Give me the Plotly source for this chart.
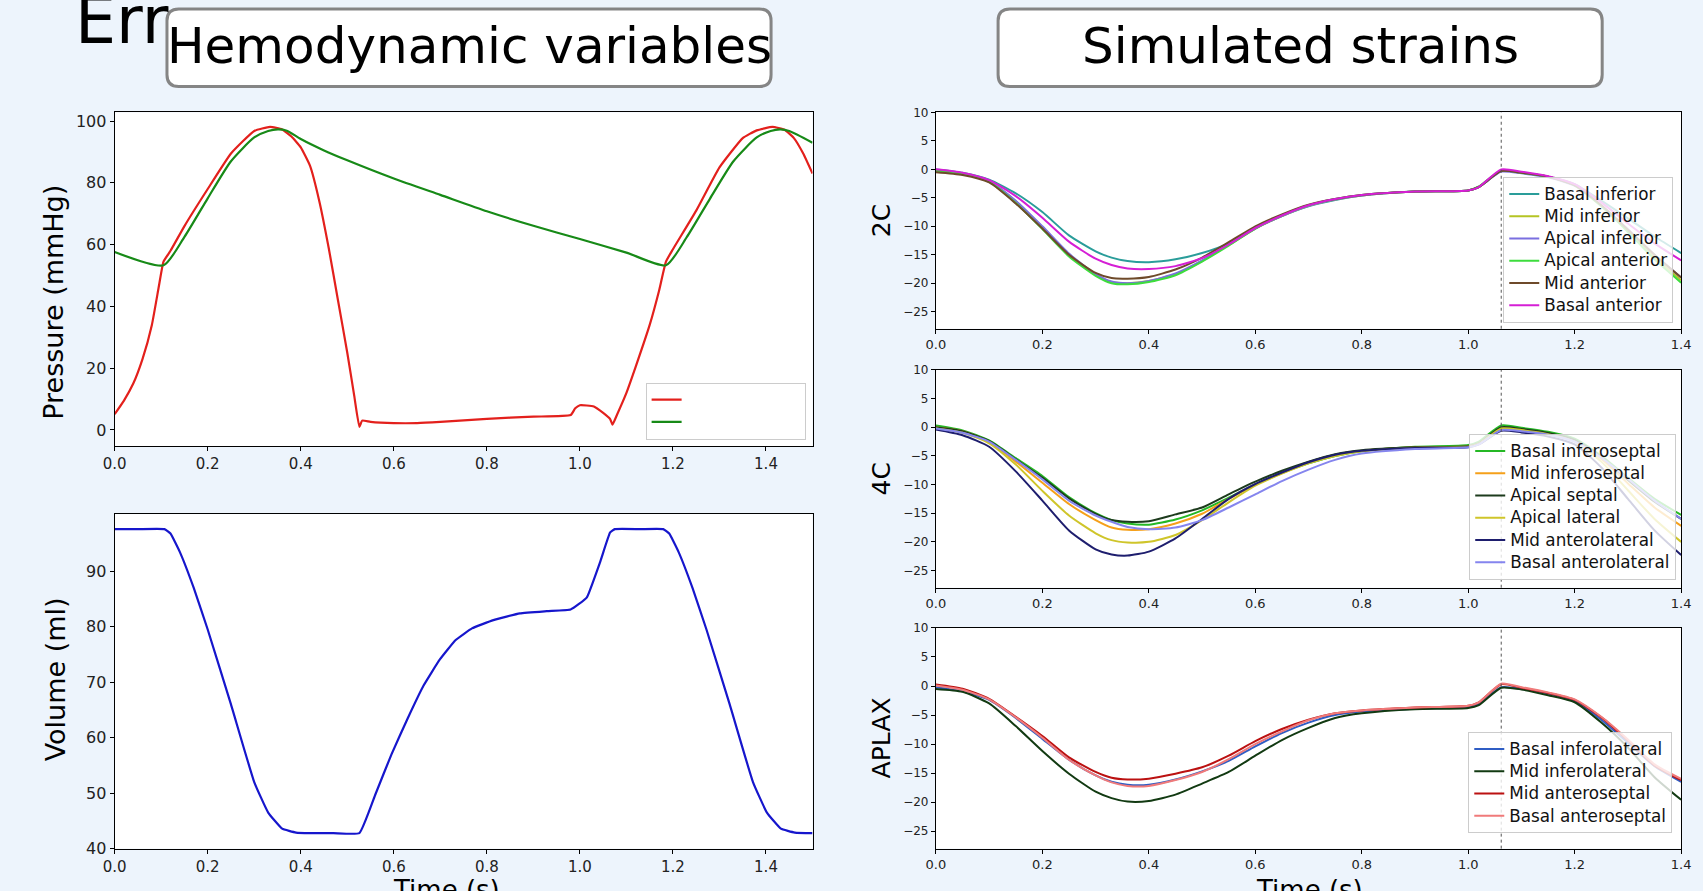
import plotly.graph_objects as go

W, H = 1703, 891
BG = "#edf4fc"
FONT = "DejaVu Sans"

# ---------------- Hemodynamic data ----------------
t_lv = [0.0, 0.02, 0.04, 0.06, 0.08, 0.095, 0.105, 0.12, 0.15, 0.2, 0.25, 0.3, 0.334, 0.36,
        0.38, 0.4, 0.42, 0.44, 0.46, 0.48, 0.5, 0.515, 0.526, 0.532, 0.55, 0.6, 0.65, 0.7,
        0.8, 0.9, 0.98, 0.99, 1.0, 1.03, 1.05, 1.065, 1.07, 1.08, 1.1, 1.12, 1.15, 1.17,
        1.185, 1.2, 1.25, 1.3, 1.35, 1.38, 1.414, 1.44, 1.46, 1.48, 1.5]
p_lv = [5.1, 9.5, 15.0, 23.0, 34.0, 46.5, 54.5, 58.0, 66.0, 78.0, 89.5, 96.8, 98.1, 97.3,
        95.0, 91.5, 85.5, 74.0, 59.0, 42.0, 25.0, 11.0, 1.0, 3.0, 2.6, 2.2, 2.2, 2.6,
        3.6, 4.3, 4.8, 7.0, 8.0, 7.6, 5.5, 3.5, 1.7, 5.0, 12.0, 20.5, 34.0, 45.0,
        54.5, 58.5, 71.0, 85.0, 94.5, 97.0, 98.1, 97.2, 94.5, 89.5, 83.0]

t_ao = [0.0, 0.105, 0.15, 0.2, 0.25, 0.3, 0.33, 0.351, 0.37, 0.4, 0.45, 0.5, 0.6, 0.7, 0.8,
        0.9, 1.0, 1.1, 1.185, 1.23, 1.28, 1.33, 1.38, 1.41, 1.431, 1.45, 1.5]
p_ao = [57.6, 53.3, 62.5, 75.0, 87.0, 94.7, 96.8, 97.3, 96.9, 94.2, 90.5, 87.3, 81.4, 76.1, 70.8,
        66.1, 61.8, 57.4, 53.3, 62.5, 75.0, 87.0, 94.7, 96.8, 97.3, 96.8, 93.0]

t_vol = [0.0, 0.05, 0.107, 0.12, 0.14, 0.17, 0.2, 0.25, 0.3, 0.33, 0.36, 0.39, 0.42, 0.47,
         0.526, 0.561, 0.595, 0.63, 0.664, 0.699, 0.733, 0.768, 0.814, 0.871, 0.929, 0.98,
         0.998, 1.015, 1.044, 1.065, 1.075, 1.13, 1.179, 1.192, 1.212, 1.242, 1.272, 1.322,
         1.372, 1.402, 1.432, 1.462, 1.5]
vol = [97.6, 97.6, 97.6, 96.8, 93.5, 87.0, 79.5, 66.0, 52.0, 46.5, 43.6, 42.9, 42.8, 42.8,
       42.8, 49.9, 57.0, 63.5, 69.4, 74.1, 77.6, 79.7, 81.2, 82.4, 82.8, 83.1,
       84.1, 85.3, 91.8, 97.0, 97.6, 97.6, 97.6, 96.8, 93.5, 87.0, 79.5, 66.0,
       52.0, 46.5, 43.6, 42.9, 42.8]

# ---------------- Strain data ----------------
t_strain = [0.0, 0.05, 0.1, 0.15, 0.2, 0.25, 0.3, 0.33, 0.36, 0.4, 0.45, 0.5, 0.55, 0.6, 0.65,
            0.7, 0.75, 0.8, 0.9, 1.0, 1.02, 1.062, 1.1, 1.15, 1.2, 1.25, 1.3, 1.35, 1.4]
ed_time = 1.062

names_2c = ["Basal inferior", "Mid inferior", "Apical inferior", "Apical anterior",
            "Mid anterior", "Basal anterior"]
colors_2c = ["#2a9d9a", "#b5c424", "#7a6fe0", "#3ddc3d", "#6e4a2a", "#d51fd5"]
s2c_basal_inferior = [0.0, -0.6, -1.8, -4.2, -7.5, -11.6, -14.4, -15.5, -16.1, -16.3, -15.8, -14.7, -13.0, -10.3, -8.2,
                      -6.5, -5.4, -4.6, -3.9, -3.7, -3.1, -0.3, -0.6, -1.3, -2.6, -5.5, -8.6, -11.8, -14.7]
s2c_mid_inferior = [-0.3, -0.8, -2.1, -5.6, -10.2, -15.0, -18.5, -19.8, -20.0, -19.6, -18.4, -16.1, -13.3, -10.4, -8.2,
                    -6.4, -5.3, -4.6, -3.9, -3.7, -3.1, -0.3, -0.6, -1.3, -2.8, -6.4, -10.8, -15.4, -19.5]
s2c_apical_inferior = [-0.2, -0.8, -2.1, -5.5, -10.0, -14.8, -18.4, -19.7, -20.0, -19.6, -18.3, -16.0, -13.2, -10.4, -8.2,
                       -6.4, -5.3, -4.6, -3.9, -3.7, -3.1, -0.4, -0.7, -1.4, -2.9, -6.3, -10.5, -15.0, -19.0]
s2c_apical_anterior = [-0.2, -0.8, -2.2, -5.9, -10.5, -15.3, -18.7, -20.0, -20.2, -19.8, -18.6, -16.2, -13.4, -10.4, -8.1,
                       -6.3, -5.2, -4.5, -3.9, -3.7, -3.0, -0.2, -0.6, -1.3, -2.8, -6.5, -11.0, -15.8, -19.9]
s2c_mid_anterior = [-0.5, -1.0, -2.3, -6.0, -10.4, -15.0, -18.2, -19.1, -19.2, -18.9, -17.6, -15.5, -12.8, -10.0, -7.9,
                    -6.2, -5.2, -4.5, -3.9, -3.7, -3.1, -0.3, -0.6, -1.3, -2.8, -6.3, -10.6, -15.0, -19.0]
s2c_basal_anterior = [0.0, -0.6, -1.9, -4.7, -8.5, -12.7, -15.7, -16.8, -17.4, -17.5, -17.0, -15.6, -13.2, -10.3, -8.1,
                      -6.3, -5.2, -4.5, -3.9, -3.7, -3.1, 0.0, -0.4, -1.2, -2.6, -5.8, -9.5, -13.0, -16.0]

names_4c = ["Basal inferoseptal", "Mid inferoseptal", "Apical septal", "Apical lateral",
            "Mid anterolateral", "Basal anterolateral"]
colors_4c = ["#25b825", "#f5a01a", "#1d3b1d", "#cfc52a", "#1e1e6e", "#8585ee"]
s4c_basal_inferoseptal = [0.3, -0.55, -2.3, -5.4, -8.5, -12.2, -15.0, -16.2, -16.8, -17.0, -16.1, -14.5, -12.3, -10.0, -8.0,
                          -6.3, -5.0, -4.2, -3.4, -3.1, -2.5, 0.3, -0.1, -0.8, -2.0, -5.0, -8.8, -12.5, -15.3]
s4c_mid_inferoseptal = [0.0, -0.7, -2.5, -6.0, -9.7, -13.4, -16.2, -17.5, -17.9, -17.8, -16.8, -15.1, -12.5, -10.0, -8.0,
                        -6.1, -4.8, -4.1, -3.5, -3.3, -2.8, -0.2, -0.5, -1.2, -2.4, -5.5, -9.8, -14.0, -17.2]
s4c_apical_septal = [0.0, -0.7, -2.4, -5.6, -8.8, -12.4, -15.1, -16.2, -16.5, -16.4, -15.2, -14.0, -11.7, -9.5, -7.6,
                     -6.0, -4.7, -4.0, -3.5, -3.3, -2.8, 0.0, -0.3, -1.0, -2.2, -5.2, -9.2, -13.0, -16.0]
s4c_apical_lateral = [-0.2, -0.95, -2.8, -6.5, -11.1, -15.4, -18.5, -19.7, -20.1, -20.0, -18.8, -16.2, -13.1, -10.2, -8.1,
                      -6.3, -5.0, -4.2, -3.6, -3.4, -2.9, -0.2, -0.5, -1.2, -2.5, -6.0, -11.0, -16.0, -20.0]
s4c_mid_anterolateral = [-0.4, -1.4, -3.4, -7.7, -12.8, -18.0, -21.3, -22.2, -22.4, -21.7, -19.4, -16.0, -12.5, -9.9, -7.9,
                         -6.1, -4.8, -4.1, -3.6, -3.5, -3.0, -0.6, -0.9, -1.6, -3.0, -7.0, -12.5, -18.0, -22.3]
s4c_basal_anterolateral = [-0.2, -0.95, -2.5, -5.7, -9.1, -12.8, -15.4, -16.5, -17.4, -17.8, -17.5, -16.2, -14.0, -11.7, -9.4,
                           -7.4, -5.7, -4.6, -3.8, -3.5, -3.0, -0.5, -0.7, -1.3, -2.5, -5.3, -9.0, -12.8, -16.0]

names_aplax = ["Basal inferolateral", "Mid inferolateral", "Mid anteroseptal", "Basal anteroseptal"]
colors_aplax = ["#2f5dc4", "#123a12", "#bb1111", "#f07a7a"]
sap_basal_inferolateral = [-0.2, -0.9, -2.4, -5.5, -9.1, -12.7, -15.4, -16.5, -17.0, -17.0, -16.1, -14.7, -12.9, -10.4, -8.1,
                           -6.3, -5.0, -4.4, -3.9, -3.6, -3.1, -0.2, -0.5, -1.3, -2.6, -5.8, -9.8, -13.8, -16.5]
sap_mid_inferolateral = [-0.5, -1.0, -3.0, -6.9, -11.2, -15.1, -18.2, -19.3, -19.9, -19.8, -18.7, -16.8, -14.8, -12.0, -9.3,
                         -7.2, -5.5, -4.7, -4.0, -3.8, -3.3, -0.3, -0.6, -1.6, -2.8, -6.3, -10.6, -15.7, -19.6]
sap_mid_anteroseptal = [0.26, -0.47, -2.2, -5.3, -8.6, -12.3, -14.8, -15.8, -16.1, -15.95, -15.1, -14.0, -12.0, -9.5, -7.4,
                        -5.8, -4.7, -4.2, -3.7, -3.4, -2.8, 0.3, -0.3, -1.2, -2.4, -5.4, -9.4, -13.7, -16.2]
sap_basal_anteroseptal = [0.1, -0.64, -2.3, -5.4, -8.9, -12.7, -15.4, -16.6, -17.2, -17.2, -16.2, -14.8, -12.6, -10.0, -7.8,
                          -5.9, -4.7, -4.2, -3.7, -3.4, -2.8, 0.4, -0.2, -1.1, -2.3, -5.3, -9.2, -13.5, -16.0]

time_ticks = [0.0, 0.2, 0.4, 0.6, 0.8, 1.0, 1.2, 1.4]
pressure_ticks = [0, 20, 40, 60, 80, 100]
volume_ticks = [40, 50, 60, 70, 80, 90]
strain_ticks = [-25, -20, -15, -10, -5, 0, 5, 10]

# ---------------- Figure ----------------
fig = go.Figure()
SM = 0.6
LEG_TXT = '<span style="font-size:16.8px">{}</span>'

fig.add_trace(go.Scatter(x=t_lv, y=p_lv, mode="lines", name="\u00a0" * 24,
                         line=dict(color="#e3201c", width=2.2, shape="spline", smoothing=0.4),
                         xaxis="x", yaxis="y", legend="legend"))
fig.add_trace(go.Scatter(x=t_ao, y=p_ao, mode="lines", name="\u00a0" * 24,
                         line=dict(color="#178a17", width=2.2, shape="spline", smoothing=0.6),
                         xaxis="x", yaxis="y", legend="legend"))
fig.add_trace(go.Scatter(x=t_vol, y=vol, mode="lines", showlegend=False,
                         line=dict(color="#1616cc", width=2.2, shape="spline", smoothing=0.35),
                         xaxis="x2", yaxis="y2"))

panels = [
    ("x3", "y3", "legend2", names_2c, colors_2c,
     [s2c_basal_inferior, s2c_mid_inferior, s2c_apical_inferior, s2c_apical_anterior,
      s2c_mid_anterior, s2c_basal_anterior]),
    ("x4", "y4", "legend3", names_4c, colors_4c,
     [s4c_basal_inferoseptal, s4c_mid_inferoseptal, s4c_apical_septal, s4c_apical_lateral,
      s4c_mid_anterolateral, s4c_basal_anterolateral]),
    ("x5", "y5", "legend4", names_aplax, colors_aplax,
     [sap_basal_inferolateral, sap_mid_inferolateral, sap_mid_anteroseptal, sap_basal_anteroseptal]),
]
for xa, ya, lg, names, cols, series in panels:
    for nm, c, s in zip(names, cols, series):
        fig.add_trace(go.Scatter(x=t_strain, y=s, mode="lines", name=LEG_TXT.format(nm),
                                 line=dict(color=c, width=2, shape="spline", smoothing=SM),
                                 xaxis=xa, yaxis=ya, legend=lg))
    fig.add_shape(type="line", xref=xa, yref=ya + " domain", x0=ed_time, x1=ed_time, y0=0, y1=1,
                  line=dict(color="#555555", width=1, dash="dot"), layer="above")


def px_x(p):
    return p / W


def px_y(p):
    return 1 - p / H


axis_common = dict(showline=True, linecolor="black", linewidth=1, mirror=True, ticks="outside",
                   ticklen=4, tickcolor="black", showgrid=False, zeroline=False)

hemo_xfont = dict(family=FONT, size=15, color="#222222")
hemo_yfont = dict(family=FONT, size=16, color="#222222")
strain_xfont = dict(family=FONT, size=13, color="#222222")
strain_yfont = dict(family=FONT, size=12, color="#222222")

hx = [px_x(104), px_x(811)]
sx = [px_x(936), px_x(1691)]

layout_axes = dict(
    xaxis=dict(domain=hx, anchor="y", range=[0, 1.5], tickvals=time_ticks, tickformat=".1f",
               tickfont=hemo_xfont, **axis_common),
    yaxis=dict(domain=[px_y(447.5), px_y(107.5)], anchor="x", range=[-5.2, 102.8],
               tickvals=pressure_ticks, tickfont=hemo_yfont, **axis_common),
    xaxis2=dict(domain=hx, anchor="y2", range=[0, 1.5], tickvals=time_ticks, tickformat=".1f",
                tickfont=hemo_xfont, **axis_common),
    yaxis2=dict(domain=[px_y(858), px_y(517)], anchor="x2", range=[40, 100.3],
                tickvals=volume_ticks, tickfont=hemo_yfont, **axis_common),
    xaxis3=dict(domain=sx, anchor="y3", range=[0, 1.4], tickvals=time_ticks, tickformat=".1f",
                tickfont=strain_xfont, **axis_common),
    yaxis3=dict(domain=[px_y(328), px_y(107.5)], anchor="x3", range=[-28, 10],
                tickvals=strain_ticks, tickfont=strain_yfont, **axis_common),
    xaxis4=dict(domain=sx, anchor="y4", range=[0, 1.4], tickvals=time_ticks, tickformat=".1f",
                tickfont=strain_xfont, **axis_common),
    yaxis4=dict(domain=[px_y(592), px_y(370)], anchor="x4", range=[-28, 10],
                tickvals=strain_ticks, tickfont=strain_yfont, **axis_common),
    xaxis5=dict(domain=sx, anchor="y5", range=[0, 1.4], tickvals=time_ticks, tickformat=".1f",
                tickfont=strain_xfont, **axis_common),
    yaxis5=dict(domain=[px_y(858), px_y(633)], anchor="x5", range=[-28, 10],
                tickvals=strain_ticks, tickfont=strain_yfont, **axis_common),
)

leg_common = dict(bgcolor="rgba(255,255,255,0.8)", bordercolor="#cccccc", borderwidth=1,
                  font=dict(family=FONT, size=14.8, color="#111111"), xanchor="right",
                  yanchor="bottom", tracegroupgap=0)
legends = dict(
    legend=dict(x=px_x(804), y=px_y(441), **leg_common),
    legend2=dict(x=px_x(1683), y=px_y(322), **leg_common),
    legend3=dict(x=px_x(1686), y=px_y(584), **leg_common),
    legend4=dict(x=px_x(1682), y=px_y(842), **leg_common),
)


def rounded_box(x0p, y0p, x1p, y1p, r=12):
    x0, x1 = px_x(x0p), px_x(x1p)
    yt, yb = px_y(y0p), px_y(y1p)
    rx, ry = r / W, r / H
    return (f"M {x0 + rx},{yt} L {x1 - rx},{yt} Q {x1},{yt} {x1},{yt - ry} "
            f"L {x1},{yb + ry} Q {x1},{yb} {x1 - rx},{yb} L {x0 + rx},{yb} "
            f"Q {x0},{yb} {x0},{yb + ry} L {x0},{yt - ry} Q {x0},{yt} {x0 + rx},{yt} Z")


for bx in [(157, 2, 769, 81), (999, 2, 1611, 81)]:
    fig.add_shape(type="path", xref="paper", yref="paper", path=rounded_box(*bx),
                  fillcolor="white", line=dict(color="#858585", width=3), layer="above")

annotations = [
    dict(text="Err", x=px_x(62), y=px_y(14), xanchor="left", yanchor="middle",
         font=dict(family=FONT, size=65, color="black")),
    dict(text="Hemodynamic variables", x=px_x(463), y=px_y(40), xanchor="center", yanchor="middle",
         font=dict(family=FONT, size=50, color="black")),
    dict(text="Simulated strains", x=px_x(1305), y=px_y(40), xanchor="center", yanchor="middle",
         font=dict(family=FONT, size=50, color="black")),
    dict(text="Pressure (mmHg)", x=px_x(42), y=px_y(301), textangle=-90, xanchor="center",
         yanchor="middle", font=dict(family=FONT, size=27, color="black")),
    dict(text="Volume (ml)", x=px_x(44), y=px_y(685), textangle=-90, xanchor="center",
         yanchor="middle", font=dict(family=FONT, size=27, color="black")),
    dict(text="2C", x=px_x(881), y=px_y(217.7), textangle=-90, xanchor="center",
         yanchor="middle", font=dict(family=FONT, size=25, color="black")),
    dict(text="4C", x=px_x(881), y=px_y(481), textangle=-90, xanchor="center",
         yanchor="middle", font=dict(family=FONT, size=25, color="black")),
    dict(text="APLAX", x=px_x(881), y=px_y(745), textangle=-90, xanchor="center",
         yanchor="middle", font=dict(family=FONT, size=25, color="black")),
    dict(text="Time (s)", x=px_x(440), y=px_y(883), xanchor="center", yanchor="top",
         font=dict(family=FONT, size=26, color="black")),
    dict(text="Time (s)", x=px_x(1314), y=px_y(883), xanchor="center", yanchor="top",
         font=dict(family=FONT, size=26, color="black")),
]
for a in annotations:
    a.update(xref="paper", yref="paper", showarrow=False)

fig.update_layout(
    width=W, height=H, autosize=False,
    margin=dict(l=0, r=0, t=0, b=0),
    paper_bgcolor=BG, plot_bgcolor="white",
    font=dict(family=FONT, color="#222222"),
    annotations=annotations,
    **layout_axes, **legends,
)

PAGE_JS = ("document.body.style.margin='0';document.body.style.padding='0';"
           "document.body.style.overflow='hidden';"
           "document.documentElement.style.overflow='hidden';"
           "document.body.style.background='" + BG + "';")

fig.write_html("out.html", post_script=PAGE_JS, config={"displayModeBar": False})
